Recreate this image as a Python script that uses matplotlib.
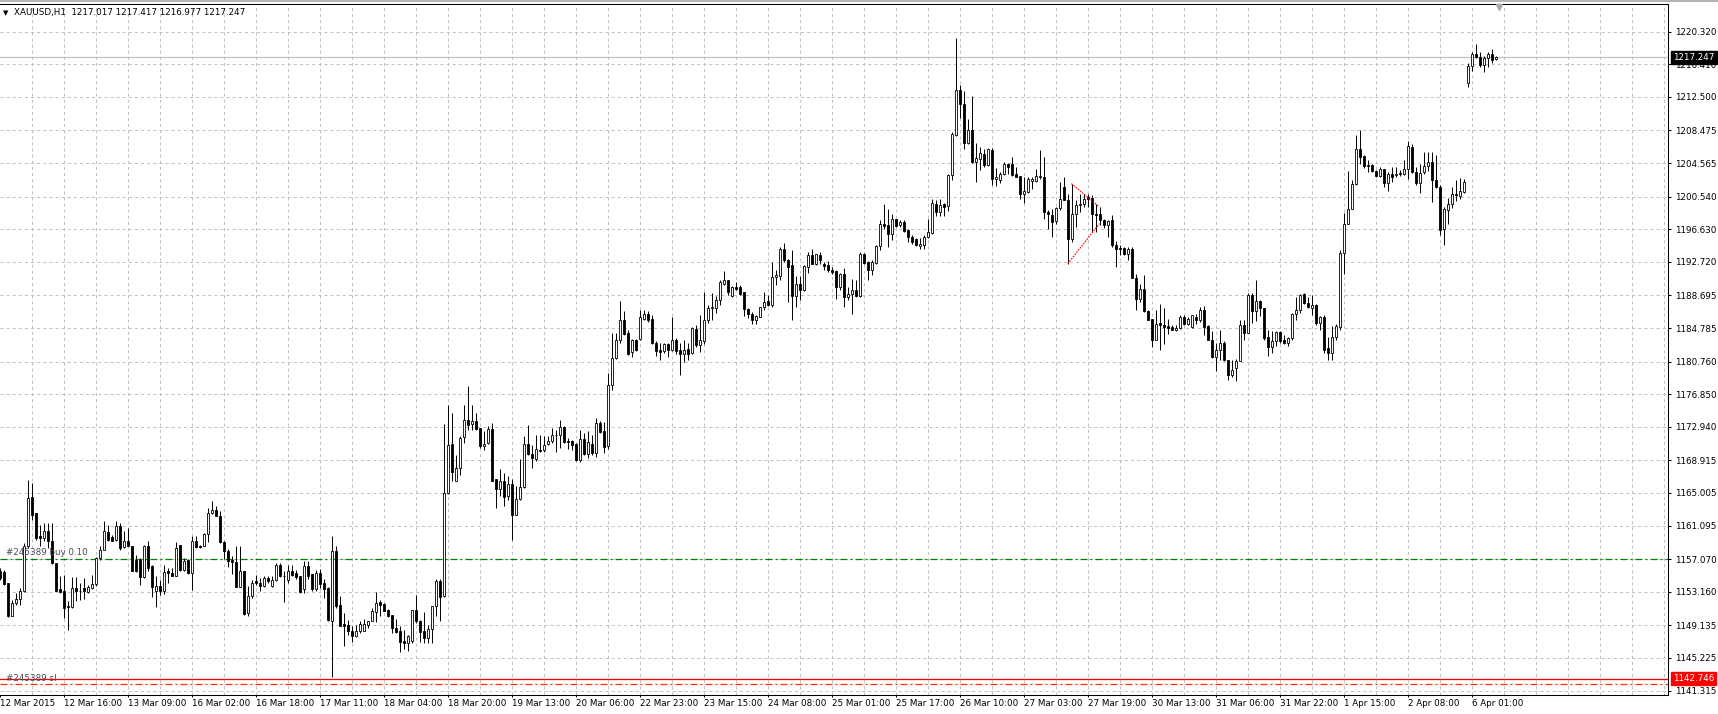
import numpy as np
import matplotlib
matplotlib.use("Agg")
import matplotlib.pyplot as plt
import matplotlib.transforms as mtransforms
from matplotlib.patches import Rectangle

# XAUUSD H1 candles (bar 0 = 12 Mar 2015 00:00)
opens = [
    1155.6, 1155.5, 1154.2, 1150.3, 1151.8, 1152.3, 1153.2, 1158.6, 1164.5, 1162.6,
    1159.8, 1159.6, 1160.4, 1159.2, 1156.6, 1153.5, 1153.2, 1151.4, 1151.3, 1153.6,
    1153.3, 1153.6, 1153.1, 1153.6, 1154.1, 1157.2, 1158.2, 1160.3, 1159.7, 1159.4,
    1161.1, 1158.5, 1159.2, 1158.7, 1157.0, 1157.0, 1154.9, 1158.7, 1156.3, 1153.2,
    1153.9, 1153.2, 1155.6, 1155.4, 1155.1, 1158.8, 1155.8, 1157.0, 1155.4, 1159.2,
    1158.7, 1158.7, 1160.1, 1162.6, 1163.0, 1162.3, 1159.1, 1158.1, 1157.0, 1156.7,
    1153.7, 1155.7, 1150.6, 1152.6, 1154.4, 1154.2, 1153.8, 1154.8, 1153.8, 1154.6,
    1156.4, 1155.1, 1154.6, 1155.7, 1155.4, 1155.0, 1153.5, 1156.3, 1155.3, 1153.5,
    1155.4, 1154.2, 1153.6, 1149.7, 1158.1, 1151.6, 1149.3, 1149.2, 1148.5, 1147.8,
    1148.4, 1148.5, 1149.2, 1149.7, 1150.7, 1151.9, 1151.7, 1151.0, 1150.4, 1148.8,
    1148.4, 1147.2, 1147.0, 1147.2, 1151.0, 1149.7, 1148.4, 1147.6, 1148.7, 1151.5,
    1154.5, 1152.6, 1165.0, 1170.9, 1166.4, 1168.0, 1171.7, 1173.7, 1173.3, 1173.6,
    1172.8, 1170.6, 1171.0, 1172.7, 1166.7, 1165.5, 1166.5, 1164.6, 1166.1, 1162.4,
    1164.3, 1165.7, 1170.9, 1169.7, 1169.1, 1170.2, 1170.1, 1170.9, 1171.2, 1172.0,
    1171.9, 1172.9, 1171.2, 1171.2, 1170.9, 1169.0, 1171.5, 1169.7, 1170.9, 1169.8,
    1173.4, 1172.4, 1170.6, 1178.0, 1181.2, 1183.3, 1185.8, 1184.2, 1181.9, 1183.4,
    1183.5, 1185.9, 1186.5, 1185.9, 1183.0, 1182.1, 1182.0, 1182.9, 1182.1, 1183.3,
    1182.1, 1181.7, 1182.3, 1181.8, 1184.7, 1182.7, 1183.2, 1185.7, 1187.2, 1187.2,
    1188.1, 1190.1, 1190.5, 1188.6, 1189.7, 1189.7, 1189.1, 1187.1, 1186.5, 1185.8,
    1186.1, 1187.3, 1188.0, 1187.5, 1190.9, 1191.0, 1194.3, 1192.9, 1192.3, 1188.6,
    1190.1, 1189.3, 1192.1, 1193.5, 1192.5, 1193.5, 1192.5, 1192.3, 1191.7, 1191.6,
    1189.7, 1191.3, 1188.5, 1188.9, 1189.3, 1188.6, 1193.7, 1192.7, 1191.8, 1192.6,
    1194.6, 1197.3, 1197.1, 1196.1, 1197.8, 1197.1, 1197.5, 1196.5, 1195.7, 1195.5,
    1194.6, 1194.7, 1195.7, 1196.2, 1199.7, 1198.7, 1199.6, 1199.4, 1203.1, 1207.9,
    1213.3, 1211.7, 1207.0, 1208.5, 1204.7, 1205.1, 1205.7, 1204.3, 1206.1, 1202.6,
    1202.5, 1203.3, 1204.5, 1204.5, 1203.3, 1203.0, 1200.9, 1201.1, 1202.4, 1202.4,
    1202.9, 1202.9, 1198.7, 1198.3, 1197.6, 1199.2, 1201.7, 1200.1, 1195.5, 1198.5,
    1199.5, 1199.6, 1200.5, 1200.4, 1198.5, 1198.5, 1197.7, 1197.1, 1197.7, 1194.8,
    1194.4, 1194.4, 1193.7, 1194.3, 1190.8, 1188.3, 1189.5, 1186.8, 1185.9, 1183.3,
    1185.4, 1185.2, 1185.0, 1184.9, 1184.5, 1184.8, 1186.1, 1185.3, 1184.9, 1186.1,
    1185.7, 1186.9, 1185.0, 1183.4, 1181.3, 1182.2, 1183.0, 1180.9, 1179.2, 1180.0,
    1180.8, 1185.2, 1184.2, 1188.8, 1186.8, 1188.0, 1187.2, 1183.7, 1182.5, 1183.2,
    1184.3, 1183.4, 1183.0, 1183.6, 1186.5, 1187.0, 1188.9, 1187.8, 1187.2, 1187.6,
    1185.4, 1186.1, 1182.4, 1181.8, 1183.7, 1184.9, 1193.8, 1197.3, 1199.0, 1202.0,
    1206.2, 1205.4, 1204.3, 1204.3, 1203.6, 1203.0, 1203.8, 1202.2, 1203.3, 1203.1,
    1203.4, 1203.3, 1203.9, 1206.5, 1203.5, 1202.2, 1203.5, 1204.2, 1204.7, 1202.5,
    1201.7, 1196.6, 1198.9, 1199.7, 1200.9, 1200.6, 1201.1, 1214.2, 1216.2, 1217.7,
    1217.3, 1216.3, 1217.2, 1217.7, 1217.017,
]
highs = [
    1156.0, 1155.8, 1154.2, 1152.2, 1153.0, 1153.6, 1159.0, 1166.6, 1166.2, 1162.6,
    1161.2, 1161.4, 1161.4, 1161.4, 1156.6, 1155.0, 1155.2, 1152.0, 1154.9, 1154.9,
    1154.2, 1154.8, 1154.0, 1155.2, 1157.3, 1158.6, 1161.6, 1161.2, 1160.0, 1161.6,
    1161.4, 1160.4, 1160.8, 1158.7, 1157.6, 1157.2, 1158.8, 1159.2, 1156.4, 1155.0,
    1154.6, 1156.4, 1156.0, 1156.0, 1159.1, 1158.8, 1157.2, 1157.1, 1159.8, 1159.8,
    1158.8, 1160.2, 1163.2, 1164.0, 1163.5, 1162.8, 1159.2, 1158.3, 1157.4, 1158.7,
    1158.6, 1155.7, 1153.8, 1154.6, 1155.2, 1154.8, 1155.0, 1155.0, 1155.0, 1156.6,
    1156.6, 1155.7, 1156.4, 1156.4, 1155.8, 1155.0, 1156.8, 1156.8, 1155.3, 1155.8,
    1155.9, 1154.7, 1153.7, 1159.9, 1158.6, 1152.7, 1150.6, 1149.8, 1149.0, 1149.2,
    1149.6, 1149.9, 1149.7, 1151.2, 1153.1, 1152.2, 1151.8, 1151.1, 1150.4, 1149.9,
    1149.0, 1148.6, 1148.0, 1151.0, 1152.8, 1149.8, 1150.7, 1149.2, 1151.5, 1154.7,
    1154.7, 1173.3, 1175.5, 1174.6, 1169.5, 1171.8, 1175.6, 1177.8, 1175.6, 1174.6,
    1172.8, 1172.4, 1173.0, 1173.4, 1166.7, 1167.9, 1167.4, 1167.1, 1166.7, 1165.9,
    1169.1, 1171.8, 1173.1, 1170.8, 1171.9, 1172.0, 1171.8, 1171.8, 1172.8, 1172.6,
    1173.8, 1173.0, 1171.6, 1171.3, 1171.0, 1172.6, 1172.2, 1172.4, 1171.9, 1174.0,
    1173.6, 1173.5, 1179.4, 1184.2, 1184.2, 1188.0, 1186.8, 1184.6, 1183.5, 1183.5,
    1187.0, 1187.0, 1186.8, 1186.4, 1183.2, 1183.0, 1183.0, 1183.0, 1186.1, 1183.6,
    1183.0, 1183.4, 1183.0, 1184.9, 1185.2, 1186.3, 1189.1, 1187.6, 1189.0, 1188.6,
    1190.6, 1191.6, 1190.6, 1189.8, 1190.3, 1190.0, 1189.1, 1187.2, 1186.7, 1186.3,
    1187.3, 1189.1, 1188.8, 1192.7, 1191.8, 1194.5, 1195.0, 1193.1, 1194.2, 1191.0,
    1191.0, 1192.3, 1193.9, 1194.3, 1193.7, 1193.9, 1192.7, 1192.8, 1192.1, 1191.7,
    1191.4, 1192.0, 1189.7, 1190.7, 1190.5, 1193.9, 1193.8, 1192.8, 1192.9, 1194.7,
    1197.7, 1199.7, 1199.0, 1198.5, 1197.9, 1197.7, 1197.7, 1196.6, 1196.0, 1195.6,
    1195.6, 1195.9, 1197.8, 1200.2, 1200.1, 1200.2, 1199.8, 1203.3, 1208.3, 1219.6,
    1213.9, 1213.2, 1209.8, 1212.6, 1207.0, 1206.5, 1206.3, 1206.4, 1206.4, 1204.0,
    1203.5, 1204.7, 1204.6, 1205.3, 1204.1, 1203.0, 1202.9, 1202.9, 1202.9, 1203.8,
    1206.1, 1205.3, 1198.9, 1199.1, 1199.3, 1202.3, 1202.9, 1200.9, 1202.1, 1200.1,
    1200.9, 1200.9, 1200.8, 1200.7, 1199.7, 1199.3, 1197.9, 1197.7, 1198.3, 1195.2,
    1194.7, 1194.5, 1194.5, 1194.5, 1191.3, 1190.1, 1191.2, 1186.9, 1185.9, 1186.9,
    1187.7, 1187.2, 1185.9, 1185.2, 1185.1, 1186.4, 1186.4, 1186.1, 1186.4, 1186.5,
    1187.3, 1187.4, 1185.2, 1184.4, 1183.0, 1184.6, 1183.2, 1181.0, 1181.0, 1181.1,
    1185.8, 1185.8, 1189.0, 1189.0, 1190.6, 1188.2, 1187.2, 1184.5, 1184.4, 1184.4,
    1184.4, 1184.0, 1183.7, 1186.6, 1188.5, 1188.9, 1189.0, 1188.5, 1188.8, 1187.7,
    1186.2, 1186.4, 1183.7, 1185.0, 1185.3, 1194.2, 1198.6, 1203.6, 1202.5, 1207.9,
    1208.5, 1205.5, 1204.9, 1204.5, 1203.7, 1204.1, 1203.9, 1203.5, 1204.1, 1204.1,
    1203.7, 1204.9, 1207.2, 1206.8, 1204.1, 1204.4, 1205.9, 1205.9, 1205.9, 1205.5,
    1201.9, 1199.3, 1200.4, 1201.7, 1202.5, 1202.8, 1202.7, 1216.6, 1217.9, 1218.8,
    1217.9, 1217.4, 1217.9, 1218.2, 1217.417,
]
lows = [
    1154.6, 1154.0, 1150.1, 1150.2, 1151.6, 1151.6, 1153.1, 1158.4, 1161.8, 1159.4,
    1158.6, 1159.2, 1158.4, 1156.5, 1153.3, 1153.0, 1150.0, 1148.6, 1151.2, 1152.0,
    1152.2, 1152.3, 1153.0, 1153.5, 1153.9, 1157.0, 1158.2, 1159.2, 1159.2, 1159.3,
    1158.2, 1158.4, 1158.6, 1155.6, 1155.5, 1154.0, 1154.8, 1155.6, 1152.5, 1151.3,
    1152.8, 1152.9, 1154.2, 1155.0, 1155.0, 1155.6, 1155.7, 1155.3, 1153.4, 1158.4,
    1158.4, 1158.6, 1159.1, 1162.5, 1162.2, 1159.0, 1157.1, 1156.1, 1155.3, 1153.7,
    1153.7, 1150.4, 1150.2, 1152.4, 1154.0, 1153.2, 1153.7, 1154.2, 1153.7, 1154.4,
    1154.9, 1151.9, 1154.2, 1155.0, 1154.7, 1153.0, 1153.0, 1154.7, 1153.2, 1153.3,
    1153.6, 1152.4, 1149.6, 1142.9, 1151.2, 1149.0, 1146.6, 1148.0, 1147.1, 1147.7,
    1148.2, 1148.4, 1148.8, 1149.6, 1149.5, 1150.2, 1150.8, 1150.1, 1148.2, 1148.2,
    1145.9, 1146.3, 1146.1, 1147.0, 1149.4, 1147.1, 1147.0, 1147.0, 1147.0, 1150.3,
    1149.7, 1152.5, 1164.9, 1166.4, 1166.4, 1167.2, 1171.0, 1172.6, 1172.6, 1172.6,
    1170.4, 1170.2, 1170.9, 1166.4, 1163.2, 1164.6, 1163.4, 1164.2, 1159.4, 1162.4,
    1164.2, 1165.6, 1169.6, 1168.0, 1168.8, 1169.9, 1169.9, 1170.7, 1171.0, 1169.9,
    1170.4, 1171.0, 1170.3, 1170.2, 1168.8, 1168.7, 1169.6, 1169.2, 1169.6, 1169.3,
    1172.2, 1169.8, 1170.3, 1177.3, 1181.1, 1183.0, 1184.0, 1181.6, 1181.3, 1182.0,
    1183.3, 1185.7, 1185.5, 1182.9, 1181.4, 1180.9, 1181.8, 1181.3, 1182.0, 1181.7,
    1179.2, 1180.7, 1181.0, 1181.7, 1182.5, 1181.9, 1182.9, 1185.4, 1185.8, 1186.6,
    1187.6, 1190.0, 1188.8, 1188.5, 1189.4, 1188.8, 1186.2, 1186.0, 1185.3, 1185.3,
    1186.1, 1187.0, 1187.4, 1187.3, 1190.0, 1190.5, 1192.7, 1187.9, 1185.8, 1187.3,
    1188.1, 1189.2, 1191.4, 1192.5, 1192.3, 1192.5, 1191.8, 1191.5, 1191.3, 1188.3,
    1189.4, 1187.3, 1188.1, 1186.5, 1188.5, 1188.5, 1192.5, 1190.6, 1191.1, 1192.5,
    1194.1, 1196.7, 1194.5, 1195.4, 1196.9, 1196.9, 1196.3, 1195.1, 1194.9, 1194.6,
    1194.3, 1194.3, 1195.6, 1196.1, 1198.2, 1198.2, 1198.2, 1198.8, 1202.5, 1207.8,
    1210.0, 1206.2, 1206.9, 1204.6, 1202.3, 1203.7, 1204.1, 1204.2, 1201.9, 1201.8,
    1202.2, 1203.1, 1203.3, 1203.0, 1202.9, 1200.3, 1199.8, 1201.0, 1201.4, 1202.3,
    1202.7, 1197.9, 1196.7, 1195.7, 1197.3, 1198.9, 1200.1, 1192.5, 1195.1, 1196.9,
    1198.7, 1199.3, 1199.3, 1196.3, 1196.3, 1197.1, 1196.8, 1195.7, 1194.5, 1192.1,
    1193.6, 1193.6, 1193.0, 1190.8, 1186.9, 1187.9, 1186.7, 1185.7, 1182.5, 1183.3,
    1182.1, 1182.9, 1184.1, 1184.5, 1184.4, 1184.7, 1185.1, 1185.2, 1184.8, 1185.3,
    1185.5, 1184.0, 1183.3, 1181.2, 1179.6, 1181.0, 1180.8, 1178.6, 1178.9, 1178.4,
    1180.8, 1183.4, 1184.2, 1185.4, 1185.6, 1186.2, 1183.4, 1181.4, 1181.8, 1182.6,
    1183.0, 1182.9, 1182.6, 1183.4, 1185.8, 1186.6, 1187.7, 1187.2, 1186.4, 1185.2,
    1184.6, 1181.8, 1181.0, 1180.9, 1183.4, 1184.6, 1191.3, 1197.2, 1199.0, 1201.9,
    1204.5, 1204.0, 1203.5, 1203.5, 1202.9, 1202.9, 1201.7, 1201.2, 1202.3, 1202.9,
    1203.0, 1203.1, 1202.7, 1203.4, 1201.9, 1201.0, 1203.3, 1203.6, 1199.9, 1201.6,
    1195.9, 1194.7, 1197.2, 1199.2, 1200.0, 1200.2, 1201.0, 1213.7, 1215.6, 1217.2,
    1216.1, 1215.5, 1216.1, 1216.6, 1216.977,
]
closes = [
    1154.8, 1154.1, 1150.3, 1151.8, 1152.3, 1153.2, 1158.6, 1164.4, 1162.4, 1159.6,
    1159.6, 1160.4, 1159.2, 1156.6, 1153.3, 1153.1, 1151.2, 1151.3, 1153.6, 1153.2,
    1153.2, 1153.2, 1153.7, 1154.1, 1157.2, 1158.2, 1160.4, 1159.4, 1159.3, 1161.1,
    1158.4, 1159.2, 1158.7, 1155.6, 1155.6, 1154.9, 1158.7, 1156.0, 1153.7, 1153.9,
    1153.2, 1155.5, 1155.4, 1155.1, 1158.4, 1155.8, 1156.9, 1155.4, 1159.2, 1158.5,
    1158.5, 1160.1, 1162.6, 1163.0, 1162.3, 1159.1, 1158.0, 1156.8, 1156.7, 1153.7,
    1155.7, 1150.5, 1152.7, 1154.2, 1154.2, 1153.8, 1154.8, 1154.4, 1154.6, 1156.4,
    1155.0, 1155.0, 1155.7, 1155.2, 1154.9, 1153.1, 1156.3, 1155.1, 1153.5, 1155.4,
    1154.1, 1153.5, 1149.8, 1158.1, 1151.5, 1149.1, 1149.1, 1148.4, 1147.9, 1148.5,
    1149.3, 1149.3, 1149.7, 1150.9, 1151.8, 1151.6, 1150.9, 1150.3, 1148.8, 1148.3,
    1147.1, 1147.0, 1147.9, 1151.0, 1149.6, 1148.3, 1147.6, 1148.7, 1151.5, 1154.5,
    1152.5, 1165.0, 1170.8, 1167.5, 1168.0, 1171.6, 1173.8, 1173.2, 1173.6, 1172.7,
    1170.6, 1170.9, 1172.7, 1166.5, 1165.5, 1166.5, 1164.5, 1166.1, 1162.4, 1164.3,
    1165.7, 1170.9, 1169.7, 1169.2, 1170.3, 1170.0, 1170.8, 1171.2, 1172.0, 1171.9,
    1172.9, 1171.1, 1171.1, 1170.8, 1168.9, 1171.5, 1169.7, 1171.1, 1169.8, 1173.4,
    1172.3, 1170.5, 1178.0, 1181.2, 1183.3, 1185.7, 1184.1, 1181.7, 1183.3, 1182.1,
    1186.1, 1186.5, 1185.8, 1183.0, 1182.0, 1181.9, 1182.9, 1182.1, 1183.3, 1182.0,
    1181.7, 1182.2, 1181.7, 1184.8, 1182.7, 1183.3, 1185.8, 1187.2, 1187.3, 1188.1,
    1190.3, 1190.5, 1189.1, 1189.7, 1189.5, 1188.9, 1187.1, 1186.5, 1185.7, 1186.2,
    1187.3, 1187.9, 1187.5, 1190.9, 1191.1, 1194.3, 1192.9, 1192.1, 1188.6, 1190.1,
    1189.3, 1192.2, 1193.5, 1192.5, 1193.7, 1192.9, 1192.2, 1191.7, 1191.5, 1189.7,
    1191.3, 1188.5, 1188.9, 1189.3, 1188.6, 1193.7, 1192.6, 1191.8, 1192.7, 1194.6,
    1197.3, 1197.0, 1196.1, 1197.8, 1197.0, 1197.5, 1196.4, 1195.7, 1195.1, 1194.7,
    1194.9, 1195.7, 1196.3, 1199.8, 1198.7, 1199.5, 1199.3, 1203.1, 1208.0, 1213.3,
    1211.6, 1207.0, 1208.5, 1204.7, 1205.2, 1205.8, 1204.3, 1206.2, 1202.6, 1202.9,
    1203.3, 1204.5, 1204.1, 1203.1, 1202.9, 1200.9, 1201.2, 1202.7, 1202.6, 1203.0,
    1203.0, 1198.7, 1198.4, 1197.5, 1199.2, 1200.3, 1200.1, 1195.5, 1198.5, 1199.5,
    1199.6, 1200.3, 1200.3, 1198.5, 1198.3, 1197.7, 1197.1, 1197.6, 1194.7, 1194.3,
    1194.3, 1193.7, 1194.3, 1190.8, 1188.3, 1189.5, 1186.8, 1185.7, 1183.3, 1185.3,
    1185.1, 1184.9, 1184.8, 1184.5, 1184.8, 1186.1, 1185.3, 1185.9, 1186.3, 1185.7,
    1186.9, 1184.9, 1183.4, 1181.3, 1182.2, 1183.0, 1180.9, 1179.2, 1179.8, 1180.8,
    1185.2, 1184.2, 1188.8, 1186.8, 1188.0, 1187.2, 1183.6, 1182.5, 1183.2, 1184.3,
    1183.2, 1183.0, 1183.6, 1186.5, 1187.0, 1188.8, 1187.8, 1187.3, 1187.6, 1185.4,
    1186.1, 1182.2, 1181.8, 1183.7, 1185.0, 1193.8, 1197.3, 1199.0, 1202.0, 1206.2,
    1205.3, 1204.2, 1204.2, 1203.6, 1203.0, 1203.8, 1202.2, 1203.3, 1202.9, 1203.3,
    1203.2, 1203.9, 1206.6, 1203.5, 1202.2, 1203.4, 1204.2, 1204.7, 1202.5, 1201.7,
    1196.5, 1199.1, 1199.7, 1200.9, 1200.7, 1201.2, 1202.3, 1216.2, 1217.6, 1217.3,
    1216.3, 1217.2, 1217.6, 1216.9, 1217.247,
]

time_labels = [
    "12 Mar 2015", "12 Mar 16:00", "13 Mar 09:00", "16 Mar 02:00", "16 Mar 18:00",
    "17 Mar 11:00", "18 Mar 04:00", "18 Mar 20:00", "19 Mar 13:00", "20 Mar 06:00",
    "22 Mar 23:00", "23 Mar 15:00", "24 Mar 08:00", "25 Mar 01:00", "25 Mar 17:00",
    "26 Mar 10:00", "27 Mar 03:00", "27 Mar 19:00", "30 Mar 13:00", "31 Mar 06:00",
    "31 Mar 22:00", "1 Apr 15:00", "2 Apr 08:00", "6 Apr 01:00",
]
price_ticks = [
    1220.320, 1216.410, 1212.500, 1208.475, 1204.565, 1200.540, 1196.630,
    1192.720, 1188.695, 1184.785, 1180.760, 1176.850, 1172.940, 1168.915,
    1165.005, 1161.095, 1157.070, 1153.160, 1149.135, 1145.225, 1141.315,
]

bid_price = 1217.247
buy_price = 1157.06
sl_level = 1142.746
sl_order = 1142.05

# the red triangle object (bar index, price)
tri_top_x = [267.8, 274.8]
tri_top_y = [1202.1, 1199.3]
tri_bot_x = [266.9, 274.8]
tri_bot_y = [1192.5, 1197.3]

plt.rcParams["font.family"] = ["DejaVu Sans"]
plt.rcParams["font.size"] = 6
plt.rcParams["lines.scale_dashes"] = False

W, H = 1718, 714
fig = plt.figure(figsize=(W / 100, H / 100), dpi=100)
ax = fig.add_axes([0, 19 / H, 1668 / W, 691 / H])

n = min(len(opens), len(highs), len(lows), len(closes))
x = np.arange(n)
o = np.array(opens[:n])
hi = np.array(highs[:n])
lo = np.array(lows[:n])
c = np.array(closes[:n])
up = c >= o
body_lo = np.minimum(o, c)
body_h = np.maximum(np.abs(c - o), 0.08)

# grid
grid_style = dict(color="#c0c0c0", linewidth=0.7, linestyle=(0, (2.2, 2.2)), zorder=0)
for xv in range(8, 420, 8):
    ax.axvline(xv, **grid_style)
for yv in price_ticks:
    ax.axhline(yv, **grid_style)

# candles: 1 px wicks, 3 px bodies (white = up, black = down)
ax.vlines(x, lo, hi, colors="black", linewidth=0.7, zorder=3)
ax.bar(x[up], body_h[up], bottom=body_lo[up], width=0.55, facecolor="white",
       edgecolor="black", linewidth=0.6, zorder=4)
ax.bar(x[~up], body_h[~up], bottom=body_lo[~up], width=0.55, facecolor="black",
       edgecolor="black", linewidth=0.6, zorder=4)

# order / price lines
ax.axhline(bid_price, color="#c0c0c0", linewidth=0.9, zorder=2)
ax.axhline(buy_price, color="#008000", linewidth=0.9,
           linestyle=(0, (5.0, 2.2, 1.4, 2.2)), zorder=2)
ax.axhline(sl_level, color="#ff0000", linewidth=0.9, zorder=2)
ax.axhline(sl_order, color="#ff3000", linewidth=0.9,
           linestyle=(0, (5.0, 2.2, 1.4, 2.2)), zorder=2)
ax.text(1.45, buy_price + 0.75, "#245389 buy 0.10", color="#4a4a5a",
        va="center", ha="left", zorder=5, fontsize=6.3)
ax.text(1.45, sl_order + 0.75, "#245389 sl", color="#4a4a5a",
        va="center", ha="left", zorder=5, fontsize=6.3)

ax.plot(tri_top_x, tri_top_y, color="red", linewidth=0.8, linestyle=(0, (1.2, 0.8)), zorder=6)
ax.plot(tri_bot_x, tri_bot_y, color="red", linewidth=0.8, linestyle=(0, (1.2, 0.8)), zorder=6)

ax.set_xlim(-0.05, 416.95)
ax.set_ylim(1140.78, 1223.64)

# axes look
ax.set_facecolor("white")
for side in ["top", "bottom", "right"]:
    ax.spines[side].set_color("black")
    ax.spines[side].set_linewidth(0.75)
ax.spines["left"].set_visible(False)

ax.yaxis.tick_right()
ax.set_yticks(price_ticks)
ax.set_yticklabels([f"{v:.3f}" for v in price_ticks])
ax.tick_params(axis="y", direction="out", length=2.2, width=0.75, pad=2.6,
               labelsize=6.3, colors="black")
ax.set_xticks(np.arange(len(time_labels)) * 16)
ax.set_xticklabels(time_labels)
for lab in ax.get_xticklabels():
    lab.set_horizontalalignment("left")
ax.tick_params(axis="x", direction="out", length=1.5, width=0.75, pad=1.6,
               labelsize=6.3, colors="black")

# price boxes on the scale
tr = mtransforms.blended_transform_factory(fig.transFigure, ax.transData)
ax.text(1673 / W, bid_price, f"{bid_price:.3f}", transform=tr, color="white",
        va="center", ha="left", zorder=10, clip_on=False, fontsize=6.3,
        bbox=dict(boxstyle="square,pad=0.25", facecolor="black", edgecolor="black"))
ax.text(1673 / W, sl_level, f"{sl_level:.3f}", transform=tr, color="white",
        va="center", ha="left", zorder=10, clip_on=False, fontsize=6.3,
        bbox=dict(boxstyle="square,pad=0.25", facecolor="#ff0000", edgecolor="#ff0000"))

# header
fig.patches.append(Rectangle((0, 1 - 2 / H), 1, 2 / H, transform=fig.transFigure,
                             facecolor="#b4b4b4", edgecolor="none"))
fig.text(3 / W, 1 - 13 / H, "\u25bc", fontsize=5, va="center", ha="left")
fig.text(14 / W, 1 - 13 / H, "XAUUSD,H1  1217.017 1217.417 1216.977 1217.247",
         fontsize=6.3, va="center", ha="left")

# chart shift marker
tr2 = mtransforms.blended_transform_factory(ax.transData, ax.transAxes)
ax.plot([374.8], [1 - 2.5 / 691], marker="v", markersize=5, color="#a8a8a8",
        transform=tr2, clip_on=False, zorder=10)

fig.savefig("out.png", dpi=100, facecolor="white")
